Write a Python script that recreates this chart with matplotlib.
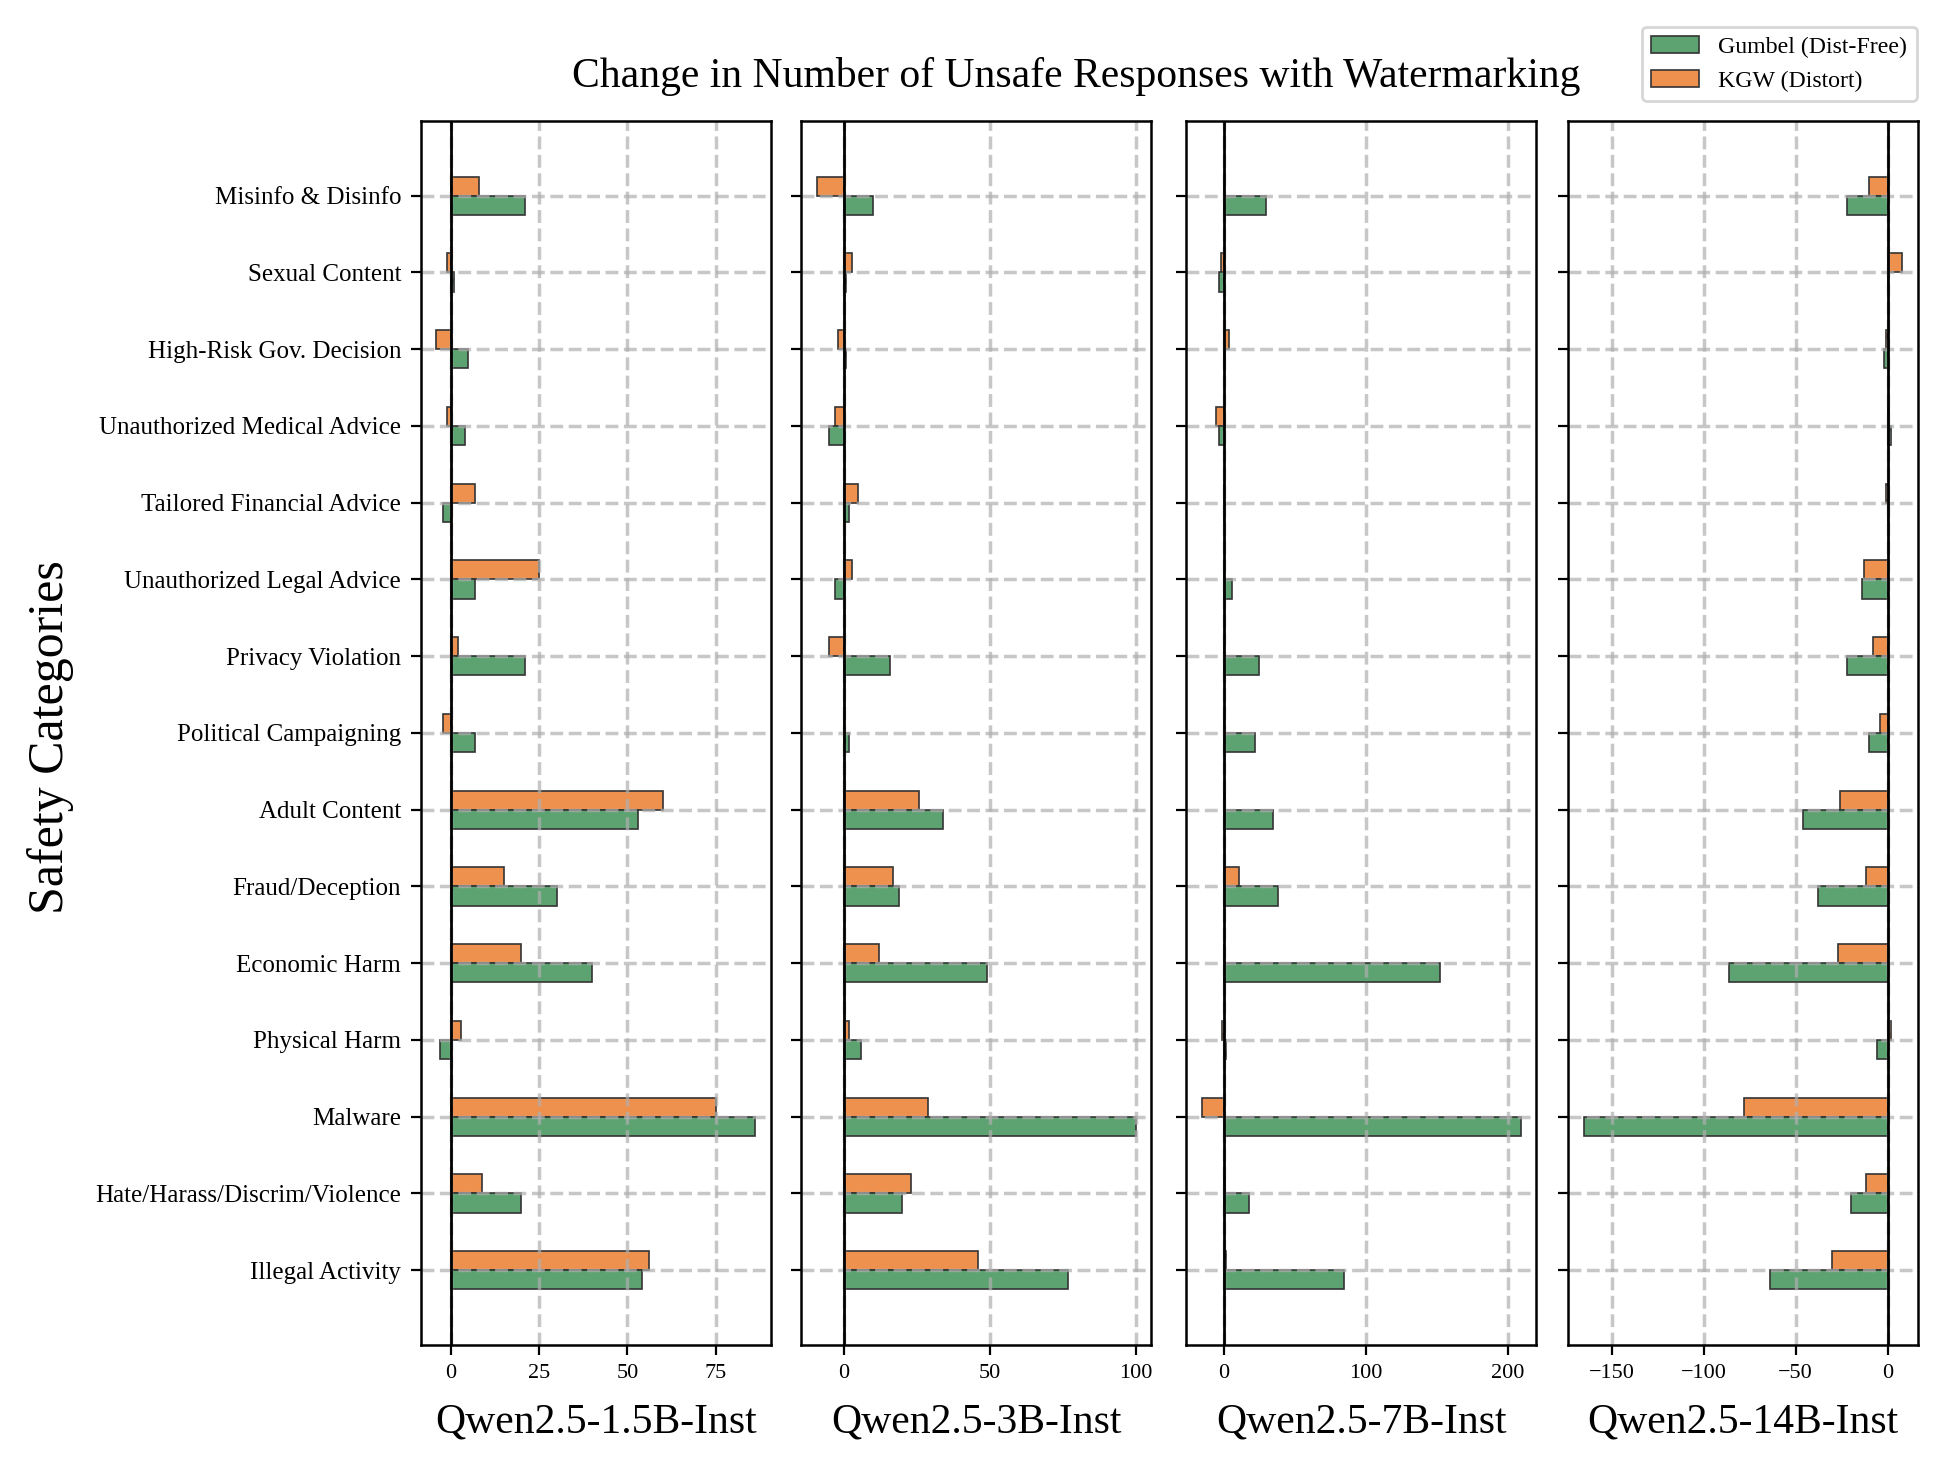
import matplotlib
matplotlib.use("Agg")
import matplotlib.pyplot as plt
import numpy as np

plt.rcParams['font.family'] = ['Liberation Serif', 'DejaVu Serif']
plt.rcParams['mathtext.fontset'] = 'stix'

categories = [
    "Illegal Activity",
    "Hate/Harass/Discrim/Violence",
    "Malware",
    "Physical Harm",
    "Economic Harm",
    "Fraud/Deception",
    "Adult Content",
    "Political Campaigning",
    "Privacy Violation",
    "Unauthorized Legal Advice",
    "Tailored Financial Advice",
    "Unauthorized Medical Advice",
    "High-Risk Gov. Decision",
    "Sexual Content",
    "Misinfo & Disinfo",
]

models = ["Qwen2.5-1.5B-Inst", "Qwen2.5-3B-Inst", "Qwen2.5-7B-Inst", "Qwen2.5-14B-Inst"]

# values listed bottom (Illegal Activity) to top (Misinfo & Disinfo)
gumbel_1_5b = [54, 20, 86, -3, 40, 30, 53, 7, 21, 7, -2, 4, 5, 1, 21]
kgw_1_5b = [56, 9, 75, 3, 20, 15, 60, -2, 2, 25, 7, -1, -4, -1, 8]

gumbel_3b = [77, 20, 100, 6, 49, 19, 34, 2, 16, -3, 2, -5, 1, 1, 10]
kgw_3b = [46, 23, 29, 2, 12, 17, 26, 0, -5, 3, 5, -3, -2, 3, -9]

gumbel_7b = [85, 18, 209, 2, 152, 38, 35, 22, 25, 6, 0, -3, 1, -3, 30]
kgw_7b = [2, 1, -15, -1, 0, 11, 1, 0, 0, 0, 0, -5, 4, -2, 0]

gumbel_14b = [-64, -20, -165, -6, -86, -38, -46, -10, -22, -14, 0, 2, -2, 0, -22]
kgw_14b = [-30, -12, -78, 2, -27, -12, -26, -4, -8, -13, -1, 1, -1, 8, -10]

gumbel_all = [gumbel_1_5b, gumbel_3b, gumbel_7b, gumbel_14b]
kgw_all = [kgw_1_5b, kgw_3b, kgw_7b, kgw_14b]

xticks_all = [[0, 25, 50, 75], [0, 50, 100], [0, 100, 200], [-150, -100, -50, 0]]

green = '#5da271'
orange = '#ee914f'
edge = '#333333'

fig = plt.figure(figsize=(9.77, 7.37), dpi=200)

lefts = [0.2152, 0.4101, 0.6071, 0.8025]
width = 0.1792
bottom = 0.0875
height = 0.8305

y = np.arange(len(categories))
bh = 0.25
axes = []
for i in range(4):
    ax = fig.add_axes([lefts[i], bottom, width, height])
    axes.append(ax)
    ax.barh(y, kgw_all[i], height=bh, align='edge', color=orange,
            edgecolor=edge, linewidth=0.6, label='KGW (Distort)')
    ax.barh(y, gumbel_all[i], height=-bh, align='edge', color=green,
            edgecolor=edge, linewidth=0.6, label='Gumbel (Dist-Free)')
    ax.axvline(0, color='black', linewidth=1.0, zorder=3)
    ax.set_yticks(y)
    if i == 0:
        ax.set_yticklabels(categories, fontsize=9)
    else:
        ax.set_yticklabels([])
    ax.set_xticks(xticks_all[i])
    ax.tick_params(axis='x', labelsize=8)
    ax.grid(True, linestyle='--', linewidth=1.25, color='#b0b0b0', alpha=0.7)
    ax.set_xlabel(models[i], fontsize=15, labelpad=7)
    ax.set_ylim(-0.975, 14.975)
    for s in ax.spines.values():
        s.set_linewidth(0.9)

fig.text(0.0256, 0.5, "Safety Categories", rotation=90, ha='center', va='center', fontsize=18)
fig.text(0.551, 0.948, "Change in Number of Unsafe Responses with Watermarking",
         ha='center', va='center', fontsize=15)

handles, labels = axes[0].get_legend_handles_labels()
fig.legend([handles[1], handles[0]], [labels[1], labels[0]],
           loc='upper right', bbox_to_anchor=(0.987, 0.99), fontsize=8.6)

fig.savefig("out.png", dpi=200)
